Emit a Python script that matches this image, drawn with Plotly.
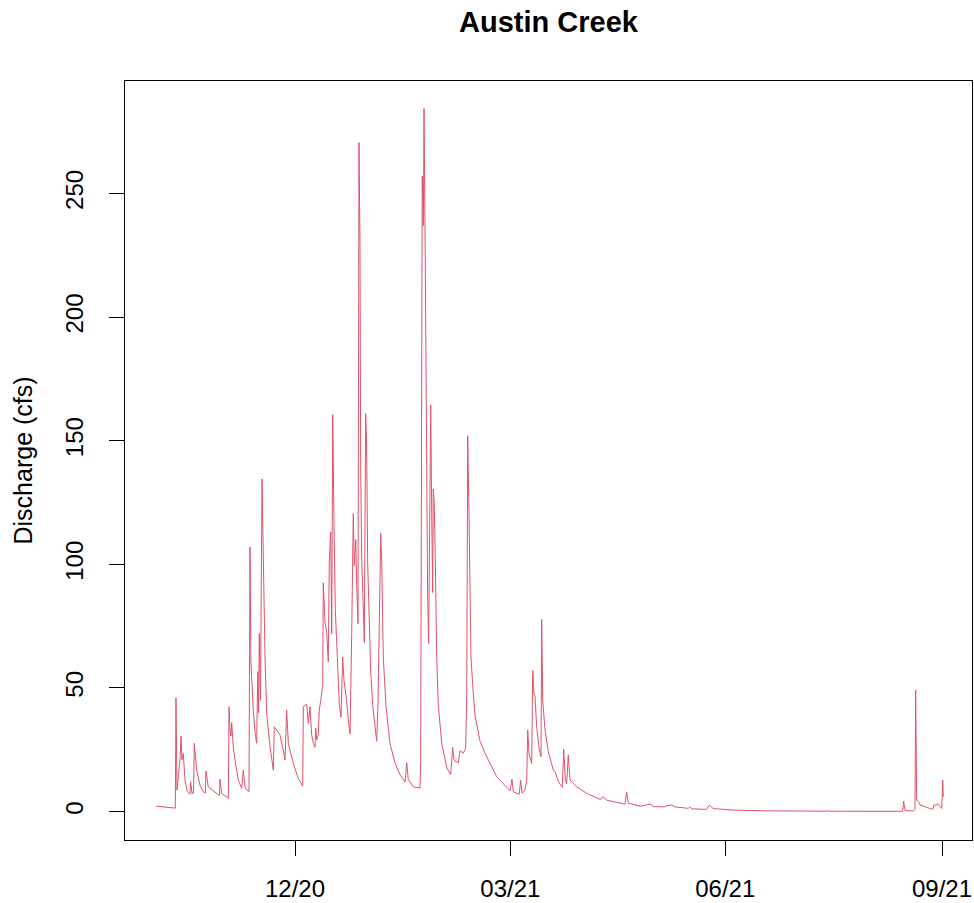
import plotly.graph_objects as go
import pandas as pd

# ---- data (discharge, cfs) ----
timestamps = [
    "2020-10-03 03:00", "2020-10-07 08:00", "2020-10-11 04:00", "2020-10-11 07:00", "2020-10-11 14:00",
    "2020-10-12 00:00", "2020-10-12 16:00", "2020-10-13 07:00", "2020-10-13 17:00", "2020-10-14 03:00",
    "2020-10-14 16:00", "2020-10-15 10:00", "2020-10-16 09:00", "2020-10-17 12:00", "2020-10-17 19:00",
    "2020-10-18 09:00", "2020-10-19 00:00", "2020-10-19 08:00", "2020-10-20 08:00", "2020-10-21 18:00",
    "2020-10-23 04:00", "2020-10-24 00:00", "2020-10-24 07:00", "2020-10-25 06:00", "2020-10-27 09:00",
    "2020-10-29 12:00", "2020-10-30 00:00", "2020-10-30 05:00", "2020-10-30 23:00", "2020-11-02 18:00",
    "2020-11-03 01:00", "2020-11-03 11:00", "2020-11-03 21:00", "2020-11-04 04:00", "2020-11-04 20:00",
    "2020-11-05 14:00", "2020-11-06 23:00", "2020-11-08 10:00", "2020-11-09 02:00", "2020-11-09 19:00",
    "2020-11-10 13:00", "2020-11-11 12:00", "2020-11-11 22:00", "2020-11-12 08:00", "2020-11-12 16:00",
    "2020-11-13 08:00", "2020-11-14 01:00", "2020-11-14 18:00", "2020-11-15 05:00", "2020-11-15 13:00",
    "2020-11-15 21:00", "2020-11-16 09:00", "2020-11-17 00:00", "2020-11-17 10:00", "2020-11-17 21:00",
    "2020-11-18 07:00", "2020-11-19 00:00", "2020-11-20 10:00", "2020-11-21 19:00", "2020-11-22 05:00",
    "2020-11-23 06:00", "2020-11-24 15:00", "2020-11-25 18:00", "2020-11-26 18:00", "2020-11-27 11:00",
    "2020-11-28 04:00", "2020-11-30 06:00", "2020-12-02 09:00", "2020-12-04 06:00", "2020-12-04 12:00",
    "2020-12-05 23:00", "2020-12-06 15:00", "2020-12-07 08:00", "2020-12-08 01:00", "2020-12-08 18:00",
    "2020-12-09 11:00", "2020-12-09 18:00", "2020-12-10 04:00", "2020-12-10 20:00", "2020-12-11 06:00",
    "2020-12-11 21:00", "2020-12-12 17:00", "2020-12-12 23:00", "2020-12-13 17:00", "2020-12-14 10:00",
    "2020-12-15 02:00", "2020-12-15 12:00", "2020-12-16 02:00", "2020-12-16 13:00", "2020-12-16 23:00",
    "2020-12-17 12:00", "2020-12-18 01:00", "2020-12-18 22:00", "2020-12-19 18:00", "2020-12-20 11:00",
    "2020-12-21 04:00", "2020-12-21 18:00", "2020-12-22 14:00", "2020-12-23 13:00", "2020-12-24 07:00",
    "2020-12-25 00:00", "2020-12-25 16:00", "2020-12-26 02:00", "2020-12-26 17:00", "2020-12-27 03:00",
    "2020-12-27 16:00", "2020-12-28 02:00", "2020-12-28 12:00", "2020-12-28 19:00", "2020-12-29 06:00",
    "2020-12-29 22:00", "2020-12-30 08:00", "2020-12-30 22:00", "2020-12-31 08:00", "2020-12-31 18:00",
    "2021-01-01 08:00", "2021-01-02 01:00", "2021-01-02 21:00", "2021-01-03 21:00", "2021-01-04 14:00",
    "2021-01-05 03:00", "2021-01-05 16:00", "2021-01-06 07:00", "2021-01-06 17:00", "2021-01-07 09:00",
    "2021-01-08 12:00", "2021-01-10 05:00", "2021-01-12 08:00", "2021-01-14 11:00", "2021-01-16 14:00",
    "2021-01-17 07:00", "2021-01-17 23:00", "2021-01-20 02:00", "2021-01-22 22:00", "2021-01-23 05:00",
    "2021-01-23 18:00", "2021-01-23 21:00", "2021-01-24 08:00", "2021-01-24 15:00", "2021-01-25 01:00",
    "2021-01-25 08:00", "2021-01-25 18:00", "2021-01-26 04:00", "2021-01-26 14:00", "2021-01-27 04:00",
    "2021-01-27 11:00", "2021-01-27 21:00", "2021-01-28 07:00", "2021-01-28 13:00", "2021-01-28 23:00",
    "2021-01-29 10:00", "2021-01-30 00:00", "2021-01-30 16:00", "2021-02-01 03:00", "2021-02-03 06:00",
    "2021-02-04 22:00", "2021-02-05 18:00", "2021-02-06 08:00", "2021-02-08 03:00", "2021-02-08 21:00",
    "2021-02-10 06:00", "2021-02-11 06:00", "2021-02-11 17:00", "2021-02-12 03:00", "2021-02-12 16:00",
    "2021-02-13 02:00", "2021-02-13 12:00", "2021-02-14 06:00", "2021-02-14 19:00", "2021-02-15 05:00",
    "2021-02-15 22:00", "2021-02-17 08:00", "2021-02-19 11:00", "2021-02-21 14:00", "2021-02-24 10:00",
    "2021-02-25 19:00", "2021-03-02 01:00", "2021-03-02 21:00", "2021-03-03 10:00", "2021-03-05 23:00",
    "2021-03-06 13:00", "2021-03-07 03:00", "2021-03-08 09:00", "2021-03-09 03:00", "2021-03-09 13:00",
    "2021-03-10 02:00", "2021-03-11 05:00", "2021-03-11 16:00", "2021-03-12 05:00", "2021-03-12 15:00",
    "2021-03-13 08:00", "2021-03-14 11:00", "2021-03-15 04:00", "2021-03-15 11:00", "2021-03-15 21:00",
    "2021-03-16 21:00", "2021-03-18 06:00", "2021-03-20 09:00", "2021-03-21 05:00", "2021-03-22 12:00",
    "2021-03-24 04:00", "2021-03-24 19:00", "2021-03-25 11:00", "2021-03-26 01:00", "2021-03-26 17:00",
    "2021-03-27 11:00", "2021-03-30 07:00", "2021-04-03 12:00", "2021-04-09 04:00", "2021-04-10 13:00",
    "2021-04-12 00:00", "2021-04-16 05:00", "2021-04-19 18:00", "2021-04-20 11:00", "2021-04-21 03:00",
    "2021-04-26 02:00", "2021-04-30 15:00", "2021-05-01 17:00", "2021-05-06 16:00", "2021-05-07 10:00",
    "2021-05-09 12:00", "2021-05-10 22:00", "2021-05-16 13:00", "2021-05-17 06:00", "2021-05-18 00:00",
    "2021-05-24 08:00", "2021-05-25 11:00", "2021-05-27 03:00", "2021-06-04 14:00", "2021-06-18 18:00",
    "2021-07-02 20:00", "2021-07-13 21:00", "2021-07-14 07:00", "2021-07-14 17:00", "2021-08-01 12:00",
    "2021-08-15 08:00", "2021-08-15 18:00", "2021-08-16 08:00", "2021-08-19 20:00", "2021-08-20 13:00",
    "2021-08-20 20:00", "2021-08-21 06:00", "2021-08-21 23:00", "2021-08-22 16:00", "2021-08-25 12:00",
    "2021-08-28 01:00", "2021-08-28 17:00", "2021-08-29 08:00", "2021-08-30 00:00", "2021-08-31 03:00",
    "2021-08-31 21:00", "2021-09-01 07:00", "2021-09-01 13:00",
]

discharge_cfs = [
    2.2, 1.8, 1.5, 1.4, 46.0,
    8.7, 15.0, 21.0, 30.5, 21.0,
    23.5, 12.7, 8.0, 7.0, 12.0,
    7.3, 7.5, 27.6, 16.8, 10.7,
    8.0, 7.5, 16.4, 10.0, 8.4,
    6.7, 6.5, 13.1, 7.3, 5.4,
    42.4, 33.0, 30.5, 36.0, 26.2,
    20.8, 12.7, 9.4, 16.8, 10.0,
    8.7, 8.1, 107.0, 60.0, 53.0,
    41.0, 32.0, 27.6, 56.6, 40.0,
    72.0, 45.0, 134.5, 110.0, 80.0,
    62.6, 39.8, 26.2, 16.8, 34.3,
    33.0, 31.0, 26.2, 20.8, 41.0,
    27.6, 19.5, 13.4, 10.3, 42.4,
    43.5, 35.7, 42.4, 31.0, 27.6,
    26.0, 33.7, 29.0, 31.0, 41.0,
    45.0, 51.0, 92.5, 76.3, 72.3,
    60.6, 101.4, 113.0, 72.0, 160.5,
    117.0, 82.0, 62.5, 43.0, 38.2,
    62.5, 52.8, 47.0, 37.3, 31.4,
    72.0, 120.5, 99.5, 110.0, 91.7,
    76.0, 270.6, 229.8, 140.0, 101.4,
    82.0, 68.4, 161.0, 148.0, 101.0,
    82.0, 56.7, 43.0, 33.4, 28.5,
    43.0, 70.3, 112.5, 101.0, 62.5,
    43.0, 27.5, 19.7, 14.9, 12.0,
    19.8, 13.0, 10.0, 9.5, 20.0,
    218.0, 257.0, 237.0, 284.3, 237.0,
    185.0, 121.0, 86.0, 68.0, 121.0,
    164.5, 121.0, 88.6, 130.5, 125.0,
    101.0, 62.5, 43.0, 27.5, 17.8,
    14.9, 26.0, 20.7, 19.7, 24.6,
    23.6, 25.6, 47.0, 152.0, 121.0,
    92.0, 62.5, 51.0, 45.0, 39.0,
    35.4, 28.5, 23.6, 19.7, 14.0,
    12.7, 8.4, 13.1, 8.0, 7.0,
    12.7, 7.4, 8.7, 12.7, 33.0,
    23.5, 19.5, 57.0, 47.8, 46.5,
    34.3, 24.9, 22.2, 77.7, 45.1,
    33.0, 24.2, 16.8, 16.0, 12.1,
    9.8, 25.2, 12.7, 11.3, 22.9,
    12.7, 10.0, 7.4, 4.9, 6.0,
    4.6, 3.7, 3.0, 7.9, 3.4,
    2.2, 3.0, 2.0, 1.9, 2.4,
    2.6, 1.9, 1.3, 1.9, 1.1,
    0.9, 2.6, 1.2, 0.6, 0.3,
    0.2, 0.15, 0.45, 0.15, 0.1,
    0.1, 4.2, 0.4, 0.2, 0.9,
    49.2, 4.7, 4.0, 2.7, 1.7,
    0.9, 3.0, 2.4, 3.2, 1.9,
    1.3, 12.7, 6.0,
]

tick_dates = ["2020-12-01 00:00", "2021-03-02 04:00", "2021-06-01 05:00", "2021-09-01 00:00"]
tick_labels = ["12/20", "03/21", "06/21", "09/21"]
y_ticks = [0, 50, 100, 150, 200, 250]

x_range = ["2020-09-19 23:45", "2021-09-13 16:30"]
y_range = [-11.5, 295.5]

FONT = "Liberation Sans, Arial, Helvetica, sans-serif"

fig = go.Figure()
fig.add_trace(go.Scatter(
    x=pd.to_datetime(timestamps), y=discharge_cfs,
    mode="lines",
    line=dict(color="#DF536B", width=1),
    showlegend=False,
))

fig.update_layout(
    width=974, height=903,
    margin=dict(l=125, r=2, t=81, b=63),
    paper_bgcolor="white", plot_bgcolor="white",
    font=dict(family=FONT, color="black", size=24),
    title=dict(
        text="<b>Austin Creek</b>",
        x=0.5, xref="paper", xanchor="center",
        y=1 - 22 / 903, yref="container", yanchor="middle",
        font=dict(family=FONT, size=29, color="black"),
    ),
    xaxis=dict(
        type="date", range=x_range,
        tickmode="array", tickvals=tick_dates, ticktext=tick_labels,
        showgrid=False, zeroline=False,
        showline=True, linecolor="black", linewidth=1, mirror=True,
        ticks="outside", ticklen=15, tickwidth=1, tickcolor="black",
        ticklabelstandoff=12,
        tickfont=dict(family=FONT, size=24, color="black"),
    ),
    yaxis=dict(
        range=y_range,
        tickmode="array", tickvals=y_ticks, ticktext=[str(v) for v in y_ticks],
        tickangle=-90,
        showgrid=False, zeroline=False,
        showline=True, linecolor="black", linewidth=1, mirror=True,
        ticks="outside", ticklen=15, tickwidth=1, tickcolor="black",
        ticklabelstandoff=16,
        tickfont=dict(family=FONT, size=24, color="black"),
    ),
    annotations=[dict(
        text="Discharge (cfs)", textangle=-90,
        xref="paper", yref="paper",
        x=(22 - 125) / 847, y=0.5,
        xanchor="center", yanchor="middle",
        showarrow=False,
        font=dict(family=FONT, size=25, color="black"),
    )],
)

fig.write_html(
    "out.html",
    config={"displayModeBar": False},
    post_script="document.body.style.margin='0';document.body.style.overflow='hidden';",
)
